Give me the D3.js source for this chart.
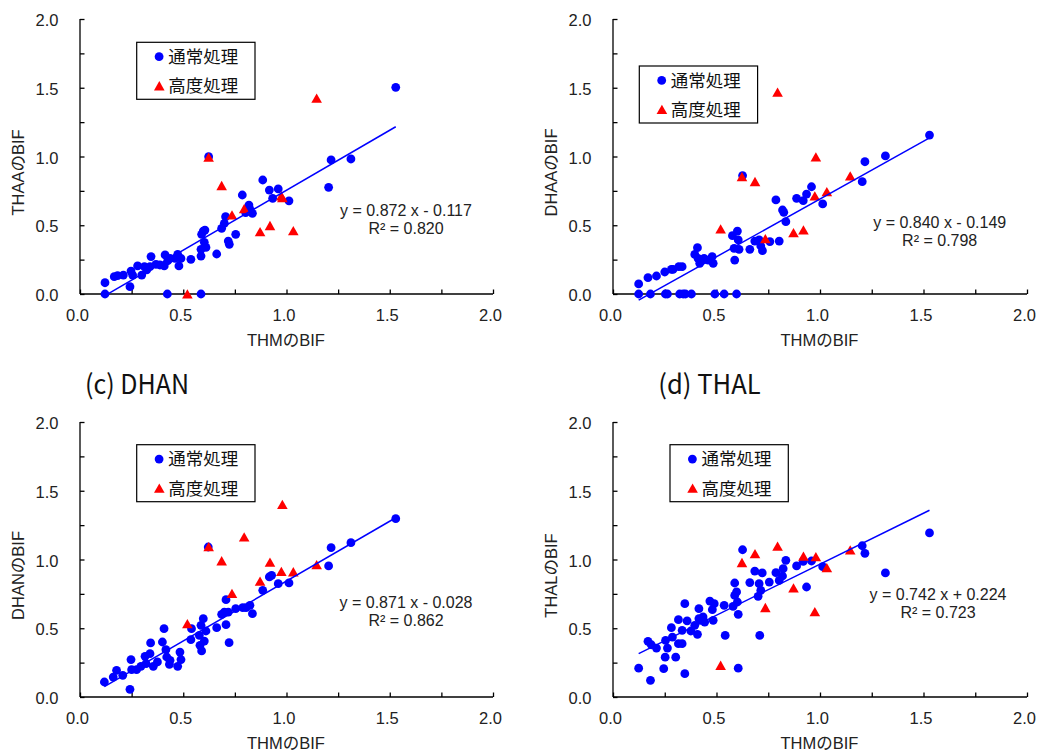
<!DOCTYPE html>
<html>
<head>
<meta charset="utf-8">
<script src="https://cdn.jsdelivr.net/npm/d3@7"></script>
<style>
  html, body { margin: 0; padding: 0; background: #fff; }
  svg { display: block; }
</style>
</head>
<body>
<svg id="chart" width="1039" height="756"></svg>
<script>
// ---- tick values / labels ----
const tickValues = [0, 0.25, 0.5, 0.75, 1, 1.25, 1.5, 1.75, 2];
const labelValues = [0, 0.5, 1, 1.5, 2];
const legendLabels = ["通常処理", "高度処理"];
const xTitle = "THMのBIF";

// ---- 高度処理 samples: THM BIF shared by all panels ----
const advancedTHM = [0.52, 0.623, 0.686, 0.736, 0.795, 0.872, 0.92, 0.975, 0.98, 1.033, 1.146];
const advancedTHAA = [0.0, 0.994, 0.788, 0.575, 0.62, 0.453, 0.497, 0.713, 0.70, 0.46, 1.423];
const advancedDHAA = [0.473, 0.853, 0.817, 0.402, 1.467, 0.446, 0.465, 0.713, 0.996, 0.744, 0.858];
const advancedDHAN = [0.533, 1.093, 0.99, 0.752, 1.164, 0.841, 0.98, 0.912, 1.40, 0.91, 0.961];
const advancedTHAL = [0.23, 0.977, 1.042, 0.65, 1.096, 0.793, 1.023, 0.62, 1.02, 0.94, 1.069];

// ---- 通常処理 samples: [THM BIF, target BIF] ----
const normalTHAA = [
  [0.121,0.082],[0.121,0],[0.166,0.126],[0.182,0.133],[0.21,0.138],[0.242,0.053],[0.247,0.167],
  [0.255,0.138],[0.279,0.204],[0.299,0.138],[0.312,0.199],[0.323,0.175],[0.339,0.199],[0.344,0.272],
  [0.368,0.216],[0.387,0.211],[0.408,0.204],[0.412,0.284],[0.425,0.242],[0.423,0],[0.436,0.259],
  [0.46,0.259],[0.473,0.288],[0.479,0.204],[0.489,0.259],[0.537,0.252],[0.586,0],[0.586,0.276],
  [0.586,0.325],[0.589,0.434],[0.597,0.458],[0.605,0.465],[0.602,0.376],[0.61,0.339],[0.623,0.999],
  [0.662,0.291],[0.686,0.478],[0.699,0.514],[0.705,0.562],[0.718,0.385],[0.723,0.361],[0.754,0.434],
  [0.786,0.72],[0.802,0.592],[0.818,0.647],[0.823,0.616],[0.835,0.587],[0.885,0.829],[0.917,0.756],
  [0.933,0.696],[0.96,0.764],[1.012,0.678],[1.204,0.776],[1.216,0.975],[1.312,0.982],[1.529,1.503]
];
const normalDHAA = [
  [0.124,0.073],[0.124,0],[0.169,0.119],[0.181,0],[0.21,0.131],[0.25,0.16],[0.253,0],[0.263,0],
  [0.282,0.179],[0.29,0.179],[0.318,0.199],[0.322,0],[0.334,0.199],[0.339,0],[0.35,0],[0.379,0],
  [0.395,0.288],[0.408,0.337],[0.411,0.259],[0.419,0.223],[0.427,0.247],[0.44,0.259],[0.46,0.247],
  [0.479,0.272],[0.484,0.223],[0.492,0],[0.537,0],[0.577,0.424],[0.585,0.332],[0.588,0.247],[0.597,0],
  [0.601,0.458],[0.605,0.393],[0.609,0.325],[0.626,0.861],[0.661,0.325],[0.685,0.385],[0.706,0.393],
  [0.714,0.349],[0.722,0.315],[0.758,0.381],[0.787,0.684],[0.803,0.385],[0.819,0.611],[0.825,0.594],
  [0.835,0.526],[0.887,0.696],[0.919,0.679],[0.935,0.727],[0.959,0.78],[1.013,0.655],[1.204,0.817],
  [1.217,0.962],[1.316,1.004],[1.529,1.156]
];
const normalDHAN = [
  [0.118,0.109],[0.161,0.145],[0.177,0.194],[0.207,0.158],[0.242,0.056],[0.247,0.272],[0.25,0.199],
  [0.274,0.199],[0.295,0.223],[0.315,0.296],[0.32,0.242],[0.339,0.315],[0.342,0.393],[0.355,0.223],
  [0.375,0.255],[0.399,0.4],[0.407,0.497],[0.416,0.344],[0.42,0.291],[0.433,0.238],[0.436,0.267],
  [0.473,0.223],[0.484,0.327],[0.489,0.272],[0.537,0.417],[0.54,0.497],[0.578,0.448],[0.581,0.376],
  [0.589,0.335],[0.586,0.521],[0.597,0.57],[0.602,0.407],[0.61,0.48],[0.621,1.091],[0.662,0.504],
  [0.686,0.601],[0.699,0.618],[0.707,0.708],[0.718,0.618],[0.707,0.526],[0.722,0.395],[0.754,0.642],
  [0.788,0.65],[0.804,0.65],[0.823,0.667],[0.835,0.606],[0.885,0.776],[0.917,0.873],[0.928,0.885],
  [0.96,0.824],[1.012,0.83],[1.204,0.953],[1.216,1.086],[1.312,1.122],[1.529,1.297]
];
const normalTHAL = [
  [0.124,0.21],[0.181,0.121],[0.169,0.405],[0.185,0.38],[0.21,0.356],[0.245,0.206],[0.252,0.29],
  [0.254,0.412],[0.263,0.356],[0.282,0.504],[0.287,0.436],[0.303,0.29],[0.316,0.562],[0.316,0.388],
  [0.334,0.388],[0.334,0.485],[0.347,0.679],[0.347,0.17],[0.358,0.553],[0.376,0.48],[0.395,0.521],
  [0.408,0.456],[0.415,0.642],[0.415,0.57],[0.424,0.558],[0.435,0.582],[0.443,0.545],[0.468,0.698],
  [0.48,0.635],[0.484,0.558],[0.489,0.679],[0.537,0.667],[0.542,0.448],[0.58,0.659],[0.588,0.829],
  [0.588,0.739],[0.597,0.764],[0.601,0.691],[0.605,0.601],[0.605,0.21],[0.626,1.071],[0.661,0.832],
  [0.685,0.916],[0.706,0.824],[0.709,0.448],[0.714,0.776],[0.701,0.732],[0.721,0.902],[0.755,0.836],
  [0.787,0.904],[0.803,0.848],[0.819,0.88],[0.822,0.933],[0.835,0.994],[0.887,0.953],[0.919,0.987],
  [0.935,0.80],[0.959,0.989],[1.013,0.948],[1.204,1.10],[1.217,1.045],[1.316,0.902],[1.529,1.193]
];

// ---- fitted lines (slope, intercept, R²) ----
const slopes = [0.872, 0.840, 0.871, 0.742];
const intercepts = [-0.117, -0.149, -0.028, 0.224];
const rSquared = [0.820, 0.798, 0.862, 0.723];
const yTitles = ["THAAのBIF", "DHAAのBIF", "DHANのBIF", "THALのBIF"];
const panelTitles = [null, null, "(c) DHAN", "(d) THAL"];

// ---- layout of the four panels ----
const layout = [
  { x0: 80,  x1: 493,  yTop: 19,  yBot: 294, yTitleX: 17.5, yTitleY: 172.5,
    legend: [136.7, 42.3], eq: [406, 215.7], title: null },
  { x0: 613, x1: 1027, yTop: 19,  yBot: 294, yTitleX: 551,  yTitleY: 172.5,
    legend: [639.3, 66],   eq: [939.7, 227.5], title: null },
  { x0: 80,  x1: 493,  yTop: 422, yBot: 697, yTitleX: 17.5, yTitleY: 575.5,
    legend: [136.7, 444.7], eq: [406, 608], title: [85, 394.3, 104] },
  { x0: 613, x1: 1027, yTop: 422, yBot: 697, yTitleX: 551,  yTitleY: 575.5,
    legend: [670, 444.7],   eq: [938, 599.7], title: [658.3, 394.3, 102.4] }
];

const normalSets = [normalTHAA, normalDHAA, normalDHAN, normalTHAL];
const advancedSets = [advancedTHAA, advancedDHAA, advancedDHAN, advancedTHAL];

const BLUE = "#0000FF", RED = "#FF0000";
const latinFont = "'Liberation Sans', Arial, 'Noto Sans CJK JP', sans-serif";
const cjkFont = "'Noto Sans CJK JP', 'Noto Sans CJK SC', sans-serif";

const svg = d3.select("#chart");
const trianglePath = "M0,-4.8L5.3,4.5L-5.3,4.5Z";

const fmt = d3.format(".1f");
const fmt3 = d3.format(".3f");

layout.forEach((L, i) => {
  const x = d3.scaleLinear().domain([0, 2]).range([L.x0, L.x1]);
  const y = d3.scaleLinear().domain([0, 2]).range([L.yBot, L.yTop]);
  const g = svg.append("g");

  // axes: left and bottom only, ticks pointing inward
  const xAxis = d3.axisBottom(x).tickValues(tickValues).tickSize(-4.5).tickFormat("");
  const yAxis = d3.axisLeft(y).tickValues(tickValues).tickSize(-4.5).tickFormat("");
  const gx = g.append("g").attr("transform", `translate(0,${L.yBot})`).call(xAxis);
  const gy = g.append("g").attr("transform", `translate(${L.x0},0)`).call(yAxis);
  [gx, gy].forEach(a => {
    a.select(".domain").attr("stroke", "#000").attr("stroke-width", 1.3);
    a.selectAll(".tick line").attr("stroke", "#000").attr("stroke-width", 1.3);
  });
  gx.select(".domain").attr("d", `M${L.x0},0H${L.x1}`);
  gy.select(".domain").attr("d", `M0,${L.yBot}V${L.yTop}`);

  // tick labels
  g.selectAll(".xl").data(labelValues).join("text")
    .attr("x", d => x(d) - 2.5).attr("y", L.yBot + 27)
    .attr("text-anchor", "middle").attr("font-family", latinFont).attr("font-size", 16.5)
    .attr("fill", "#222").text(d => fmt(d));
  g.selectAll(".yl").data(labelValues).join("text")
    .attr("x", L.x0 - 21.5).attr("y", d => y(d) + 7)
    .attr("text-anchor", "end").attr("font-family", latinFont).attr("font-size", 16.5)
    .attr("fill", "#222").text(d => fmt(d));

  // axis titles
  g.append("text")
    .attr("x", (L.x0 + L.x1) / 2 - 0.5).attr("y", L.yBot + 52)
    .attr("text-anchor", "middle").attr("font-family", latinFont).attr("font-size", 16.5)
    .attr("fill", "#222").text(xTitle);
  g.append("text")
    .attr("transform", `translate(${L.yTitleX + 6},${L.yTitleY}) rotate(-90)`)
    .attr("text-anchor", "middle").attr("font-family", latinFont).attr("font-size", 16.5)
    .attr("fill", "#222").text(yTitles[i]);

  // panel title
  if (L.title && panelTitles[i]) {
    g.append("text")
      .attr("x", L.title[0]).attr("y", L.title[1])
      .attr("font-family", cjkFont).attr("font-size", 27)
      .attr("textLength", L.title[2]).attr("lengthAdjust", "spacingAndGlyphs")
      .attr("fill", "#111").text(panelTitles[i]);
  }

  // 通常処理 points
  g.append("g").selectAll("circle").data(normalSets[i]).join("circle")
    .attr("cx", d => x(d[0])).attr("cy", d => y(d[1])).attr("r", 4.4)
    .attr("fill", BLUE);

  // 高度処理 points
  g.append("g").selectAll("path").data(advancedTHM.map((t, k) => [t, advancedSets[i][k]])).join("path")
    .attr("d", trianglePath)
    .attr("transform", d => `translate(${x(d[0])},${y(d[1])})`)
    .attr("fill", RED);

  // fitted line over the span of THM values
  const allX = normalSets[i].map(d => d[0]).concat(advancedTHM);
  const lineXs = d3.extent(allX);
  g.append("path")
    .datum(lineXs.map(v => [v, slopes[i] * v + intercepts[i]]))
    .attr("d", d3.line().x(d => x(d[0])).y(d => y(d[1])))
    .attr("stroke", BLUE).attr("stroke-width", 1.5).attr("fill", "none");

  // equation and R²
  const sign = intercepts[i] < 0 ? "-" : "+";
  g.append("text")
    .attr("x", L.eq[0]).attr("y", L.eq[1])
    .attr("text-anchor", "middle").attr("font-family", latinFont).attr("font-size", 16)
    .attr("fill", "#222")
    .text(`y = ${fmt3(slopes[i])} x ${sign} ${fmt3(Math.abs(intercepts[i]))}`);
  g.append("text")
    .attr("x", L.eq[0]).attr("y", L.eq[1] + 18.3)
    .attr("text-anchor", "middle").attr("font-family", latinFont).attr("font-size", 16)
    .attr("fill", "#222")
    .text(`R² = ${fmt3(rSquared[i])}`);

  // legend
  const [lx, ly] = L.legend;
  const lg = g.append("g").attr("transform", `translate(${lx},${ly})`);
  lg.append("rect").attr("width", 118.3).attr("height", 57)
    .attr("fill", "#fff").attr("stroke", "#000").attr("stroke-width", 1.2);
  lg.append("circle").attr("cx", 22.4).attr("cy", 14.4).attr("r", 4.4).attr("fill", BLUE);
  lg.append("path").attr("d", trianglePath).attr("transform", "translate(22.6,43.6)").attr("fill", RED);
  lg.selectAll("text").data(legendLabels).join("text")
    .attr("x", 31.5).attr("y", (d, k) => (k === 0 ? 14.4 : 43.6) + 6.3)
    .attr("font-family", cjkFont).attr("font-size", 17)
    .attr("textLength", 70).attr("lengthAdjust", "spacingAndGlyphs")
    .attr("fill", "#111").text(d => d);
});
</script>
</body>
</html>
